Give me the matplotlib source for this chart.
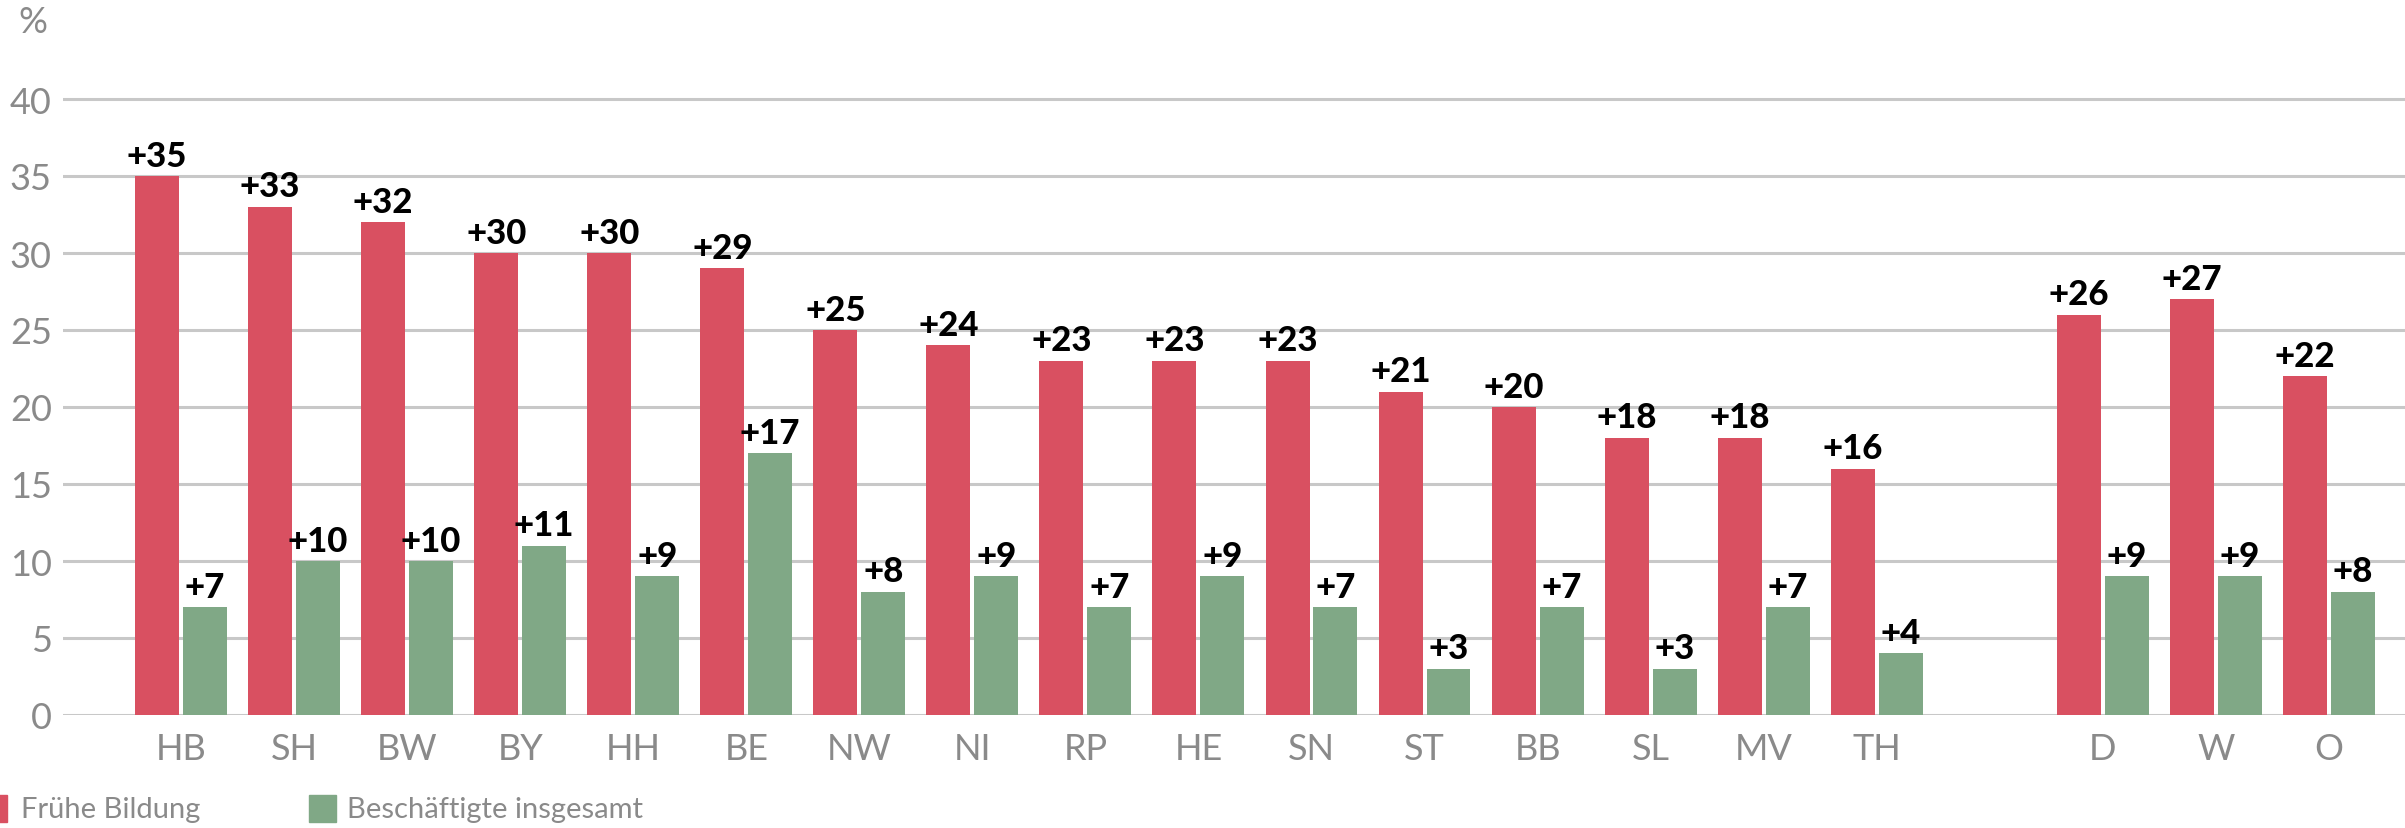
import matplotlib
matplotlib.use("Agg")
import matplotlib.pyplot as plt
from matplotlib.patches import Rectangle
import numpy as np

# Data
states = ["HB", "SH", "BW", "BY", "HH", "BE", "NW", "NI", "RP", "HE",
          "SN", "ST", "BB", "SL", "MV", "TH"]
state_fruehe = [35, 33, 32, 30, 30, 29, 25, 24, 23, 23, 23, 21, 20, 18, 18, 16]
state_gesamt = [7, 10, 10, 11, 9, 17, 8, 9, 7, 9, 7, 3, 7, 3, 7, 4]

regions = ["D", "W", "O"]
region_fruehe = [26, 27, 22]
region_gesamt = [9, 9, 8]

series_labels = ["Frühe Bildung", "Beschäftigte insgesamt"]
y_ticks = [0, 5, 10, 15, 20, 25, 30, 35, 40]

red = "#D95061"
green = "#80A886"
grey_text = "#8A8A8A"
grid_grey = "#C8C8C8"

plt.rcParams["font.family"] = ["Lato", "DejaVu Sans"]

labels = states + regions
fruehe = state_fruehe + region_fruehe
gesamt = state_gesamt + region_gesamt
# one empty slot between the states and the aggregates
x = np.concatenate([np.arange(len(states)),
                    np.arange(len(regions)) + len(states) + 1])

W, H = 2405, 829
zero_y = 716
fig = plt.figure(figsize=(W / 100, H / 100), dpi=100)
ax = fig.add_axes([63 / W, (H - zero_y) / H, 1 - 63 / W, zero_y / H])

bw = 0.389
off = 0.212
bars1 = ax.bar(x - off, fruehe, width=bw, color=red, zorder=3)
bars2 = ax.bar(x + off, gesamt, width=bw, color=green, zorder=3)

for bars, vals in ((bars1, fruehe), (bars2, gesamt)):
    for b, v in zip(bars, vals):
        ax.annotate("+%d" % v, (b.get_x() + b.get_width() / 2, v),
                    xytext=(0, 7.5), textcoords="offset points",
                    ha="center", va="baseline", fontsize=25,
                    fontweight="black", color="black")

ax.set_xlim(-1.044, 19.673)
ax.set_ylim(0, zero_y / 15.4)
ax.set_yticks(y_ticks)
ax.set_yticklabels([str(t) for t in y_ticks])
ax.set_xticks(x)
ax.set_xticklabels(labels)
ax.tick_params(axis="both", length=0, labelsize=26, labelcolor=grey_text)
ax.tick_params(axis="y", pad=8)
ax.tick_params(axis="x", pad=12)
ax.grid(axis="y", color=grid_grey, linewidth=2.2, zorder=0)
ax.set_axisbelow(True)
for s in ax.spines.values():
    s.set_visible(False)

fig.text(18 / W, 1 - 6 / H, "%", ha="left", va="top",
         fontsize=26, color=grey_text)

# legend
sq = 27
fig.add_artist(Rectangle(((-20) / W, (H - 823) / H), sq / W, sq / H,
                         transform=fig.transFigure, color=red, clip_on=False))
fig.text(21 / W, (H - 810) / H, series_labels[0], ha="left", va="center",
         fontsize=21, color=grey_text)
fig.add_artist(Rectangle((309 / W, (H - 823) / H), sq / W, sq / H,
                         transform=fig.transFigure, color=green, clip_on=False))
fig.text(347 / W, (H - 810) / H, series_labels[1], ha="left", va="center",
         fontsize=21, color=grey_text)

fig.savefig("out.png", dpi=100)
